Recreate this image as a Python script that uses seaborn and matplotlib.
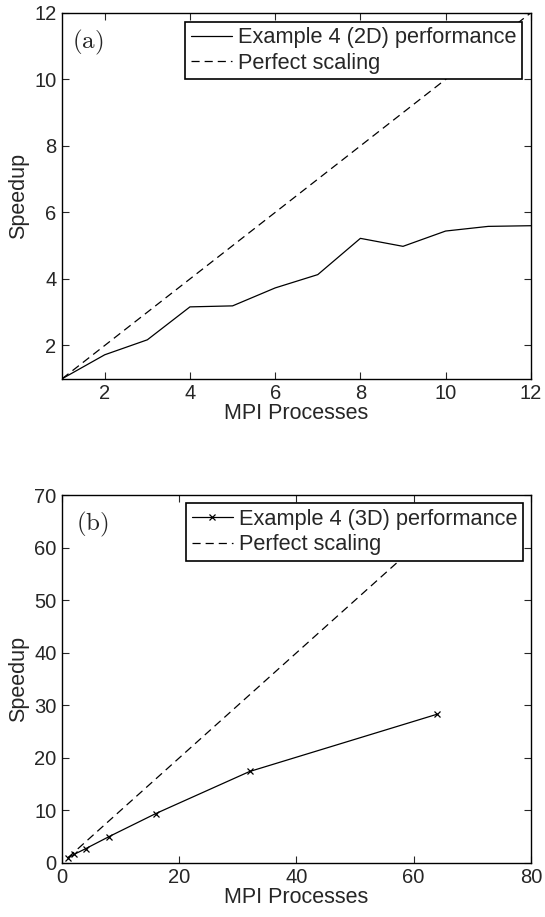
import matplotlib
import matplotlib.pyplot as plt
import numpy as np
import pandas as pd
import seaborn as sns

# 数据
procs_2d = [1, 2, 3, 4, 5, 6, 7, 8, 9, 10, 11, 12]
speedup_2d = [1.0, 1.72, 2.17, 3.16, 3.19, 3.73, 4.13, 5.22, 4.98, 5.44, 5.58, 5.60]

procs_3d = [1, 2, 4, 8, 16, 32, 64]
speedup_3d = [1.0, 1.6, 2.7, 5.0, 9.4, 17.4, 28.3]

sns.set_style('ticks')
matplotlib.rcParams['font.family'] = ['Liberation Sans', 'DejaVu Sans']
matplotlib.rcParams['mathtext.fontset'] = 'cm'
matplotlib.rcParams['xtick.direction'] = 'in'
matplotlib.rcParams['ytick.direction'] = 'in'
matplotlib.rcParams['axes.linewidth'] = 1.0

DASH = (0, (6.5, 4))


def style_axes(ax):
    """MATLAB风格坐标轴"""
    ax.tick_params(top=True, right=True, labelsize=14.5, length=5, width=0.8, pad=4)
    for s in ax.spines.values():
        s.set_visible(True)
        s.set_color('black')
    ax.set_xlabel('MPI Processes', fontsize=15.5, labelpad=0)
    ax.set_ylabel('Speedup', fontsize=15.5, labelpad=4)


def add_legend(ax, pad):
    leg = ax.legend(loc='upper right', fontsize=15.7, frameon=True, fancybox=False,
                    edgecolor='black', framealpha=1, handlelength=1.9,
                    handletextpad=0.25, borderpad=0.25, labelspacing=0.2,
                    borderaxespad=pad)
    leg.get_frame().set_linewidth(1.2)


fig = plt.figure(figsize=(5.45, 9.17), dpi=100)
ax1 = fig.add_axes([0.114, 0.587, 0.860, 0.399])
ax2 = fig.add_axes([0.114, 0.059, 0.860, 0.401])

# (a) 2D
df_a = pd.DataFrame({'x': procs_2d, 'y': speedup_2d})
sns.lineplot(data=df_a, x='x', y='y', ax=ax1, color='black', lw=0.9,
             label='Example 4 (2D) performance')
sns.lineplot(x=procs_2d, y=procs_2d, ax=ax1, color='black', lw=0.9,
             linestyle=DASH, label='Perfect scaling')
ax1.set_xlim(1, 12)
ax1.set_ylim(1, 12)
ax1.set_xticks([2, 4, 6, 8, 10, 12])
ax1.set_yticks([2, 4, 6, 8, 10, 12])
style_axes(ax1)
ax1.text(0.02, 0.96, r'$\rm{(a)}$', transform=ax1.transAxes, fontsize=18,
         va='top', ha='left')
add_legend(ax1, 0.42)

# (b) 3D
df_b = pd.DataFrame({'x': procs_3d, 'y': speedup_3d})
sns.lineplot(data=df_b, x='x', y='y', ax=ax2, color='black', lw=0.9,
             marker='x', markersize=5, mec='black', mew=0.9,
             label='Example 4 (3D) performance')
sns.lineplot(x=procs_3d, y=procs_3d, ax=ax2, color='black', lw=0.9,
             linestyle=DASH, label='Perfect scaling')
ax2.set_xlim(0, 80)
ax2.set_ylim(0, 70)
ax2.set_xticks([0, 20, 40, 60, 80])
ax2.set_yticks([0, 10, 20, 30, 40, 50, 60, 70])
style_axes(ax2)
ax2.text(0.03, 0.96, r'$\rm{(b)}$', transform=ax2.transAxes, fontsize=18,
         va='top', ha='left')
add_legend(ax2, 0.38)

fig.savefig('out.png', dpi=100)
